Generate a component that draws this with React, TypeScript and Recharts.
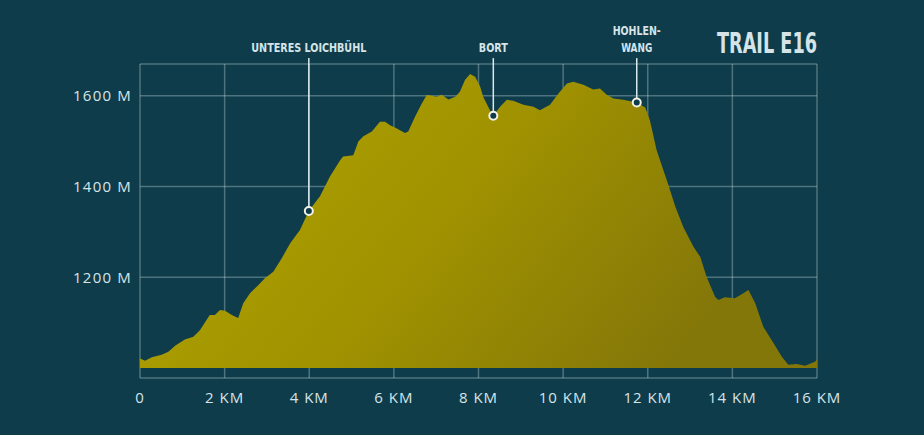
import { Area, AreaChart, CartesianGrid, ReferenceDot, ReferenceLine, XAxis, YAxis } from 'recharts';

// distance along the trail (km) and elevation (m)
const distanceKm = [
  0, 0.12, 0.28, 0.51, 0.67, 0.83, 1.06, 1.26, 1.42, 1.58, 1.65, 1.77, 1.89, 2.01, 2.17, 2.32,
  2.44, 2.6, 2.8, 2.95, 3.15, 3.35, 3.55, 3.78, 3.99, 4.18, 4.25, 4.49, 4.73, 4.8, 5.04, 5.16,
  5.28, 5.48, 5.67, 5.79, 5.91, 6.07, 6.26, 6.34, 6.5, 6.66, 6.78, 7.01, 7.13, 7.29, 7.45, 7.56,
  7.68, 7.8, 7.92, 8.04, 8.11, 8.27, 8.35, 8.51, 8.67, 8.82, 9.06, 9.3, 9.45, 9.69, 9.89, 10.09,
  10.24, 10.48, 10.71, 10.87, 11.03, 11.19, 11.42, 11.74, 11.94, 12.05, 12.21, 12.37, 12.49, 12.65,
  12.84, 13.08, 13.24, 13.39, 13.59, 13.67, 13.82, 14.06, 14.26, 14.38, 14.54, 14.73, 14.97, 15.17,
  15.32, 15.52, 15.72, 15.95, 16,
];
const elevationM = [
  1021, 1016, 1024, 1029, 1036, 1049, 1063, 1069, 1084, 1107, 1117, 1117, 1128, 1126, 1117, 1110,
  1143, 1165, 1183, 1198, 1212, 1242, 1275, 1304, 1346, 1370, 1378, 1422, 1458, 1466, 1469, 1499,
  1511, 1521, 1543, 1543, 1535, 1528, 1518, 1521, 1554, 1583, 1602, 1598, 1602, 1592, 1598, 1609,
  1635, 1648, 1642, 1620, 1598, 1568, 1556, 1576, 1591, 1589, 1580, 1576, 1568, 1580, 1605, 1627,
  1631, 1624, 1614, 1616, 1602, 1594, 1591, 1585, 1574, 1546, 1480, 1436, 1403, 1356,
  1311, 1267, 1245, 1201, 1157, 1150, 1156, 1154, 1165, 1172, 1143, 1091, 1055, 1025,
  1007, 1009, 1005, 1014, 1018,
];

const xTicks = [0, 2, 4, 6, 8, 10, 12, 14, 16];
const yTicks = [1200, 1400, 1600, 1670];
const yLabelled = [1200, 1400, 1600];

// waypoints on the profile
const poiNames = [['UNTERES LOICHBÜHL'], ['BORT'], ['HOHLEN-', 'WANG']];
const poiKm = [3.99, 8.35, 11.74];
const poiElevation = [1346, 1556, 1585];
const poiLabelWidth = [115, 29, 48];
const poiTop = 1683;

const data = distanceKm.map((km, i) => ({ km, ele: elevationM[i] }));

const BG = '#0e3c4a';
const TEXT = '#d6e4e8';
const labelFont = '"DejaVu Sans Condensed", "DejaVu Sans", sans-serif';

function PoiLabel(props: any) {
  const { cx, cy, idx } = props;
  const lines = poiNames[idx];
  return (
    <g>
      {lines.map((t, j) => (
        <text
          key={t}
          x={cx}
          y={cy - 6 - (lines.length - 1 - j) * 17}
          textAnchor="middle"
          fill={TEXT}
          fontFamily={labelFont}
          fontWeight="bold"
          fontSize={13}
          textLength={j === 0 ? poiLabelWidth[idx] : 31}
          lengthAdjust="spacingAndGlyphs"
        >
          {t}
        </text>
      ))}
    </g>
  );
}

export default function App() {
  return (
    <div style={{ position: 'absolute', left: 0, top: 0, width: 924, height: 435, background: BG }}>
      <AreaChart width={924} height={435} data={data} margin={{ top: 64, right: 107, bottom: 0, left: 0 }}>
        <defs>
          <linearGradient id="trailFill" x1="0" y1="0" x2="1" y2="0.35">
            <stop offset="0%" stopColor="#b3a500" />
            <stop offset="55%" stopColor="#a09200" />
            <stop offset="100%" stopColor="#847709" />
          </linearGradient>
        </defs>
        <XAxis
          dataKey="km"
          type="number"
          domain={[0, 16]}
          ticks={xTicks}
          height={57}
          axisLine={false}
          tickLine={false}
          tickSize={0}
          tickMargin={14}
          tick={{ fill: TEXT, fontSize: 15, fontFamily: '"Open Sans", sans-serif', letterSpacing: 1 }}
          tickFormatter={(v: number) => (v === 0 ? '0' : `${v} KM`)}
        />
        <YAxis
          type="number"
          domain={[978, 1670]}
          ticks={yTicks}
          width={140}
          axisLine={false}
          tickLine={false}
          tickSize={0}
          tickMargin={8}
          tick={{ fill: TEXT, fontSize: 15, fontFamily: '"Open Sans", sans-serif', letterSpacing: 1.2 }}
          tickFormatter={(v: number) => (yLabelled.includes(v) ? `${v} M` : '')}
        />
        <Area
          type="linear"
          dataKey="ele"
          baseValue={1000}
          stroke="none"
          fill="url(#trailFill)"
          fillOpacity={1}
          isAnimationActive={false}
        />
        <CartesianGrid stroke="#cfe3ea" strokeOpacity={0.33} strokeWidth={1.5} />
        {poiKm.map((km, i) => (
          <ReferenceLine
            key={`l${i}`}
            segment={[
              { x: km, y: poiElevation[i] },
              { x: km, y: poiTop },
            ]}
            stroke="#dce9ec"
            strokeWidth={1.5}
            ifOverflow="visible"
          />
        ))}
        {poiKm.map((km, i) => (
          <ReferenceDot
            key={`d${i}`}
            x={km}
            y={poiElevation[i]}
            r={4}
            fill={BG}
            stroke="#f2f2e6"
            strokeWidth={2}
            ifOverflow="visible"
          />
        ))}
        {poiKm.map((km, i) => (
          <ReferenceDot
            key={`t${i}`}
            x={km}
            y={poiTop}
            r={0}
            ifOverflow="visible"
            shape={(p: any) => <PoiLabel {...p} idx={i} />}
          />
        ))}
      </AreaChart>
      <svg width={924} height={70} style={{ position: 'absolute', left: 0, top: 0 }}>
        <text
          x={717}
          y={53}
          fill={TEXT}
          fontFamily={labelFont}
          fontWeight="bold"
          fontSize={29}
          textLength={100}
          lengthAdjust="spacingAndGlyphs"
        >
          TRAIL E16
        </text>
      </svg>
    </div>
  );
}
